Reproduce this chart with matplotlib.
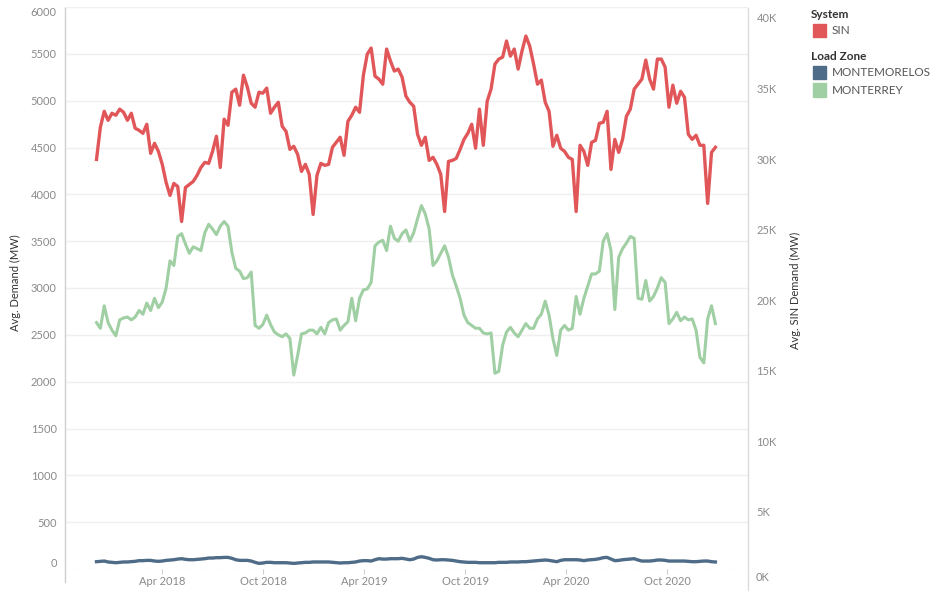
import matplotlib
matplotlib.use('Agg')
import matplotlib.pyplot as plt
import matplotlib.dates as mdates
from matplotlib.lines import Line2D
from matplotlib.patches import Rectangle
import pandas as pd

plt.rcParams['font.family'] = ['Lato', 'DejaVu Sans']

# weekly averages, first week 2017-12-03
week_start = '2017-12-03'

sin_demand = [
    29980, 32260, 33390, 32750, 33250, 33110, 33540, 33320, 32750, 33250,
    32190, 32040, 31830, 32470, 30410, 31120, 30550, 29630, 28350, 27430,
    28280, 28060, 25580, 27990, 28210, 28420, 28850, 29410, 29770, 29700,
    30550, 31620, 29410, 32830, 32400, 34740, 34960, 33820, 35950, 35100,
    33960, 33680, 34740, 34670, 35030, 33250, 33680, 34030, 32330, 31970,
    30690, 30910, 30340, 29130, 29630, 28920, 26080, 28850, 29700, 29560,
    29630, 30840, 31190, 31550, 30270, 32680, 33110, 33680, 33320, 35950,
    37440, 37870, 35880, 35670, 35310, 37800, 36950, 36240, 36380, 35810,
    34460, 34030, 33750, 31760, 30980, 31550, 29910, 30130, 29630, 28920,
    26290, 29840, 29910, 30050, 30690, 31400, 31830, 32470, 30770, 33540,
    30980, 34100, 34960, 36730, 37090, 37230, 38370, 37300, 37800, 36380,
    37660, 38720, 38010, 36730, 35310, 35600, 34030, 33390, 30910, 31690,
    30770, 30550, 30130, 29980, 26290, 30980, 30550, 29560, 31190, 31330,
    32540, 32610, 33390, 29270, 31400, 30480, 31400, 33040, 33540, 34960,
    35310, 35670, 37020, 35670, 34960, 37090, 37090, 36520, 33680, 35240,
    33960, 34810, 34390, 31760, 31400, 31690, 30980, 30980, 26860, 30480,
    30840,
]

monterrey = [
    2630, 2570, 2810, 2630, 2550, 2490, 2660, 2680, 2690, 2660,
    2690, 2760, 2720, 2840, 2760, 2890, 2790, 2850, 3000, 3290,
    3240, 3550, 3580, 3470, 3370, 3440, 3420, 3400, 3590, 3680,
    3630, 3570, 3660, 3710, 3660, 3380, 3210, 3180, 3100, 3110,
    3170, 2600, 2570, 2610, 2710, 2610, 2530, 2500, 2480, 2510,
    2460, 2070, 2280, 2510, 2520, 2550, 2550, 2510, 2580, 2510,
    2630, 2660, 2670, 2550, 2600, 2640, 2890, 2650, 2890, 2980,
    2990, 3060, 3450, 3490, 3510, 3400, 3660, 3530, 3500, 3580,
    3620, 3500, 3590, 3740, 3880, 3790, 3630, 3240, 3290, 3370,
    3450, 3330, 3140, 3020, 2890, 2710, 2630, 2600, 2570, 2570,
    2520, 2510, 2520, 2090, 2110, 2390, 2530, 2580, 2520, 2480,
    2550, 2620, 2570, 2570, 2670, 2720, 2860, 2710, 2460, 2280,
    2550, 2600, 2550, 2570, 2910, 2720, 2890, 3020, 3150, 3150,
    3180, 3500, 3580, 3400, 2770, 3330, 3420, 3480, 3550, 3530,
    2890, 2880, 3080, 2860, 2910, 3000, 3110, 3060, 2620, 2670,
    2740, 2650, 2690, 2660, 2670, 2550, 2260, 2200, 2670, 2810,
    2620,
]

montemorelos = [
    78, 82, 85, 75, 71, 67, 71, 75, 75, 78,
    82, 89, 89, 92, 92, 85, 82, 85, 92, 96,
    99, 106, 110, 103, 99, 99, 103, 106, 110, 117,
    117, 121, 121, 124, 124, 114, 99, 92, 92, 92,
    85, 71, 60, 64, 71, 71, 67, 67, 67, 67,
    64, 60, 64, 67, 71, 71, 75, 75, 75, 75,
    75, 71, 67, 64, 67, 67, 71, 75, 85, 89,
    89, 85, 99, 110, 106, 106, 110, 110, 110, 114,
    106, 99, 106, 124, 131, 124, 114, 99, 96, 99,
    99, 96, 92, 85, 78, 75, 71, 71, 71, 67,
    67, 67, 67, 67, 71, 71, 71, 75, 75, 75,
    78, 78, 82, 85, 89, 92, 96, 92, 85, 78,
    92, 99, 99, 99, 99, 96, 89, 96, 99, 103,
    110, 121, 124, 106, 89, 92, 99, 103, 106, 110,
    96, 85, 85, 85, 89, 96, 96, 92, 85, 85,
    85, 85, 85, 82, 78, 78, 82, 85, 85, 78,
    75,
]

x_ticks = ['2018-04-01', '2018-10-01', '2019-04-01', '2019-10-01', '2020-04-01', '2020-10-01']
left_ticks = list(range(0, 6001, 500))
right_ticks = list(range(5000, 40001, 5000))

RED = '#e15759'
BLUE = '#4e6b88'
GREEN = '#a0cfa4'
TICK_GREY = '#8a8a8a'
TITLE_GREY = '#333333'

weeks = pd.date_range(week_start, periods=len(sin_demand), freq='7D')

W, H = 942, 591
fig = plt.figure(figsize=(W / 100, H / 100), dpi=100)
ax = fig.add_axes([65 / W, 22 / H, 683 / W, 562 / H])
ax2 = ax.twinx()

# grid
for v in left_ticks[1:]:
    ax.axhline(v, color='#efefef', lw=1, zorder=0)
ax.axhline(0, color='#d9d9d9', lw=0.8, ls=(0, (3, 2)), zorder=0)

ax.plot(weeks, montemorelos, color=BLUE, lw=2.4, solid_joinstyle='round', zorder=3)
ax.plot(weeks, monterrey, color=GREEN, lw=2.2, solid_joinstyle='round', zorder=3)
ax2.plot(weeks, sin_demand, color=RED, lw=2.4, solid_joinstyle='round', zorder=3)

ax.set_xlim(pd.Timestamp('2017-10-07'), pd.Timestamp('2021-02-24'))
ax.set_ylim(0, 6000)
ax2.set_ylim(961, 40779)

for a in (ax, ax2):
    for s in a.spines.values():
        s.set_visible(False)

ax.set_xticks(pd.to_datetime(x_ticks))
ax.xaxis.set_major_formatter(mdates.DateFormatter('%b %Y'))
ax.tick_params(axis='x', length=3.6, width=0.8, color='#d0d0d0',
               labelsize=8, labelcolor=TICK_GREY, pad=1.5)

ax.set_yticks(left_ticks)
ax.set_yticklabels([str(v) for v in left_ticks])
ax.tick_params(axis='y', length=0, labelsize=8, labelcolor=TICK_GREY, pad=6)
labs = ax.get_yticklabels()
labs[0].set_va('bottom')
labs[-1].set_va('top')

ax2.set_yticks(right_ticks)
ax2.set_yticklabels([f'{v // 1000}K' for v in right_ticks])
ax2.tick_params(axis='y', length=0, labelsize=8, labelcolor=TICK_GREY, pad=6)
ax2.text(1.0, 0, '0K', transform=ax2.get_yaxis_transform(), fontsize=8,
         color=TICK_GREY, ha='left', va='bottom')
# nudge the 0K label to sit like the others
ax2.texts[-1].set_position((1.0 + 8 / 683, 0))

# axis lines
fig.add_artist(Line2D([65 / W, 65 / W], [1 - 8 / H, 1 - 582 / H], color='#cfcfcf', lw=1))
fig.add_artist(Line2D([748 / W, 748 / W], [1 - 8 / H, 0], color='#dcdcdc', lw=1))

fig.text(15 / W, 1 - 283 / H, 'Avg. Demand (MW)', rotation=90, ha='center', va='center',
         fontsize=8, color=TITLE_GREY)
fig.text(795 / W, 1 - 290 / H, 'Avg. SIN Demand (MW)', rotation=90, ha='center', va='center',
         fontsize=8, color=TITLE_GREY)

# legend
def legend_title(y, text):
    fig.text(811 / W, 1 - y / H, text, fontsize=8.5, fontweight='bold', color=TITLE_GREY,
             ha='left', va='center')

def legend_item(y, color, text):
    fig.add_artist(Rectangle((813 / W, 1 - (y + 6.5) / H), 13 / W, 13 / H,
                             color=color, transform=fig.transFigure))
    fig.text(832 / W, 1 - y / H, text, fontsize=8.5, color='#555555', ha='left', va='center')

legend_title(15, 'System')
legend_item(30.5, RED, 'SIN')
legend_title(57, 'Load Zone')
legend_item(72.5, BLUE, 'MONTEMORELOS')
legend_item(90, GREEN, 'MONTERREY')

fig.savefig('out.png', dpi=100)
